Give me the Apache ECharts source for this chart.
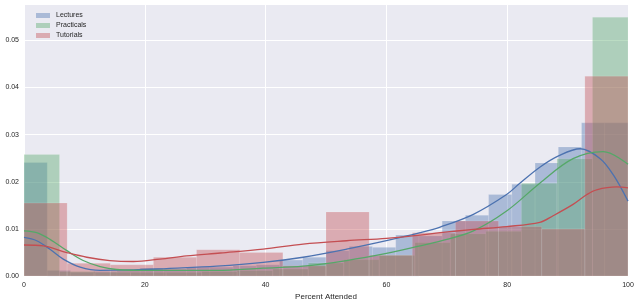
<!DOCTYPE html>
<html>
<head>
<meta charset="utf-8">
<script src="https://cdn.jsdelivr.net/npm/echarts@6/dist/echarts.min.js"></script>
<style>
html,body{margin:0;padding:0;background:#fff;}
#chart{width:640px;height:306px;}
</style>
</head>
<body>
<div id="chart"></div>
<script>
// ---- Data ----
var xTicks = [0, 20, 40, 60, 80, 100];
var yTicks = [0.00, 0.01, 0.02, 0.03, 0.04, 0.05];

var lectureEdges = [0, 3.85, 7.69, 11.54, 15.38, 19.23, 23.08, 26.92, 30.77, 34.62, 38.46, 42.31, 46.15, 50, 53.85, 57.69, 61.54, 65.38, 69.23, 73.08, 76.92, 80.77, 84.62, 88.46, 92.31, 96.15, 100];
var lectureHeights = [0.0241, 0.0012, 0.0008, 0.0010, 0.0012, 0.0017, 0.0015, 0.0019, 0.0019, 0.0022, 0.0024, 0.0034, 0.0040, 0.0054, 0.0063, 0.0061, 0.0087, 0.0085, 0.0117, 0.0129, 0.0173, 0.0195, 0.0240, 0.0274, 0.0325, 0.0325];

var practicalEdges = [0, 5.88, 11.76, 17.65, 23.53, 29.41, 35.29, 41.18, 47.06, 52.94, 58.82, 64.71, 70.59, 76.47, 82.35, 88.24, 94.12, 100];
var practicalHeights = [0.0258, 0.0010, 0.0008, 0.0008, 0.0008, 0.0010, 0.0012, 0.0015, 0.0028, 0.0035, 0.0044, 0.0071, 0.0090, 0.0095, 0.0197, 0.0249, 0.0549];

var tutorialEdges = [0, 7.14, 14.29, 21.43, 28.57, 35.71, 42.86, 50, 57.14, 64.29, 71.43, 78.57, 85.71, 92.86, 100];
var tutorialHeights = [0.0155, 0.0027, 0.0024, 0.0040, 0.0056, 0.0050, 0.0022, 0.0136, 0.0044, 0.0092, 0.0117, 0.0105, 0.0100, 0.0424];

// KDE curves: [x, density]
var lectureKdeX = [0, 2.1, 4.3, 6.5, 9.3, 12.6, 18.1, 23.6, 31.9, 39.6, 46.2, 53.4, 60.0, 65.6, 68.9, 74.4, 79.9, 82.1, 85.4, 88.5, 92.1, 95.4, 97.6, 100];
var lectureKdeY = [0.0082, 0.0075, 0.0057, 0.0036, 0.0019, 0.0012, 0.0013, 0.0016, 0.0021, 0.0029, 0.0040, 0.0057, 0.0075, 0.0092, 0.0104, 0.0131, 0.0173, 0.0197, 0.0231, 0.0255, 0.0270, 0.0249, 0.0214, 0.0159];

var practicalKdeX = [0, 2.1, 4.3, 7.1, 9.8, 12.6, 15.3, 20.9, 31.9, 39.6, 46.2, 53.4, 60.0, 65.6, 68.9, 74.4, 79.9, 85.4, 90.9, 95.9, 100];
var practicalKdeY = [0.0096, 0.0092, 0.0078, 0.0054, 0.0033, 0.0020, 0.0014, 0.0012, 0.0012, 0.0017, 0.0021, 0.0033, 0.0048, 0.0064, 0.0074, 0.0096, 0.0138, 0.0197, 0.0249, 0.0264, 0.0237];

var tutorialKdeX = [0, 3.2, 7.1, 10.4, 14.2, 18.1, 22.5, 26.9, 32.5, 39.6, 46.2, 53.4, 60.0, 65.6, 68.9, 74.4, 79.9, 85.4, 87.6, 90.9, 93.2, 94.8, 98.1, 100];
var tutorialKdeY = [0.0066, 0.0064, 0.0050, 0.0040, 0.0033, 0.0031, 0.0036, 0.0043, 0.0049, 0.0057, 0.0068, 0.0075, 0.0080, 0.0087, 0.0092, 0.0099, 0.0105, 0.0114, 0.0128, 0.0152, 0.0173, 0.0183, 0.0189, 0.0187];

var names = ['Lectures', 'Practicals', 'Tutorials'];
var lineColors = ['#4C72B0', '#55A868', '#C44E52'];
var fillColors = ['rgba(76,114,176,0.4)', 'rgba(85,168,104,0.4)', 'rgba(196,78,82,0.4)'];

// ---- Build options ----
function binData(edges, heights) {
  var out = [];
  for (var i = 0; i < heights.length; i++) out.push([edges[i], edges[i + 1], heights[i]]);
  return out;
}
function kdeData(xs, ys) {
  var out = [];
  for (var i = 0; i < xs.length; i++) out.push([xs[i], ys[i]]);
  return out;
}
function histSeries(name, data, fill) {
  return {
    name: name,
    type: 'custom',
    data: data,
    encode: { x: [0, 1], y: 2 },
    itemStyle: { color: fill },
    silent: true,
    renderItem: function (params, api) {
      var p0 = api.coord([api.value(0), api.value(2)]);
      var p1 = api.coord([api.value(1), 0]);
      return {
        type: 'rect',
        shape: { x: p0[0], y: p0[1], width: p1[0] - p0[0], height: p1[1] - p0[1] },
        style: { fill: fill, stroke: 'rgba(255,255,255,0.25)', lineWidth: 0.5 }
      };
    }
  };
}
function lineSeries(name, data, color) {
  return {
    name: name + ' KDE',
    type: 'line',
    data: data,
    smooth: 0.35,
    showSymbol: false,
    silent: true,
    lineStyle: { color: color, width: 1.3 },
    itemStyle: { color: color }
  };
}

var series = [
  histSeries(names[0], binData(lectureEdges, lectureHeights), fillColors[0]),
  lineSeries(names[0], kdeData(lectureKdeX, lectureKdeY), lineColors[0]),
  histSeries(names[1], binData(practicalEdges, practicalHeights), fillColors[1]),
  lineSeries(names[1], kdeData(practicalKdeX, practicalKdeY), lineColors[1]),
  histSeries(names[2], binData(tutorialEdges, tutorialHeights), fillColors[2]),
  lineSeries(names[2], kdeData(tutorialKdeX, tutorialKdeY), lineColors[2])
];

var textColor = '#262626';
var font = 'Liberation Sans, Arial, sans-serif';

var option = {
  animation: false,
  backgroundColor: '#ffffff',
  textStyle: { fontFamily: font },
  grid: {
    left: 24, right: 12, top: 4, bottom: 27,
    show: true, backgroundColor: '#EAEAF2', borderWidth: 0
  },
  legend: {
    orient: 'vertical',
    left: 31, top: 6,
    itemWidth: 14, itemHeight: 5, itemGap: 1,
    icon: 'rect',
    selectedMode: false,
    data: names.map(function (n, i) { return { name: n, itemStyle: { color: fillColors[i] } }; }),
    textStyle: { fontSize: 7, color: textColor, fontFamily: font, lineHeight: 9, padding: [0, 0, 0, 1] }
  },
  xAxis: {
    type: 'value',
    min: xTicks[0], max: xTicks[xTicks.length - 1], interval: 20,
    name: 'Percent Attended',
    nameLocation: 'middle',
    nameGap: 16,
    nameTextStyle: { fontSize: 8, color: textColor, fontFamily: font },
    axisLine: { show: false },
    axisTick: { show: false },
    axisLabel: { fontSize: 7, color: textColor, margin: 5, fontFamily: font },
    splitLine: { show: true, lineStyle: { color: '#ffffff', width: 1 } }
  },
  yAxis: {
    type: 'value',
    min: yTicks[0], max: 0.0577, interval: 0.01,
    axisLine: { show: false },
    axisTick: { show: false },
    axisLabel: {
      fontSize: 7, color: textColor, margin: 5, fontFamily: font,
      showMaxLabel: false,
      formatter: function (v) { return v.toFixed(2); }
    },
    splitLine: { show: true, lineStyle: { color: '#ffffff', width: 1 } }
  },
  series: series
};

var chart = echarts.init(document.getElementById('chart'), null, { renderer: 'canvas' });
chart.setOption(option);
</script>
</body>
</html>
